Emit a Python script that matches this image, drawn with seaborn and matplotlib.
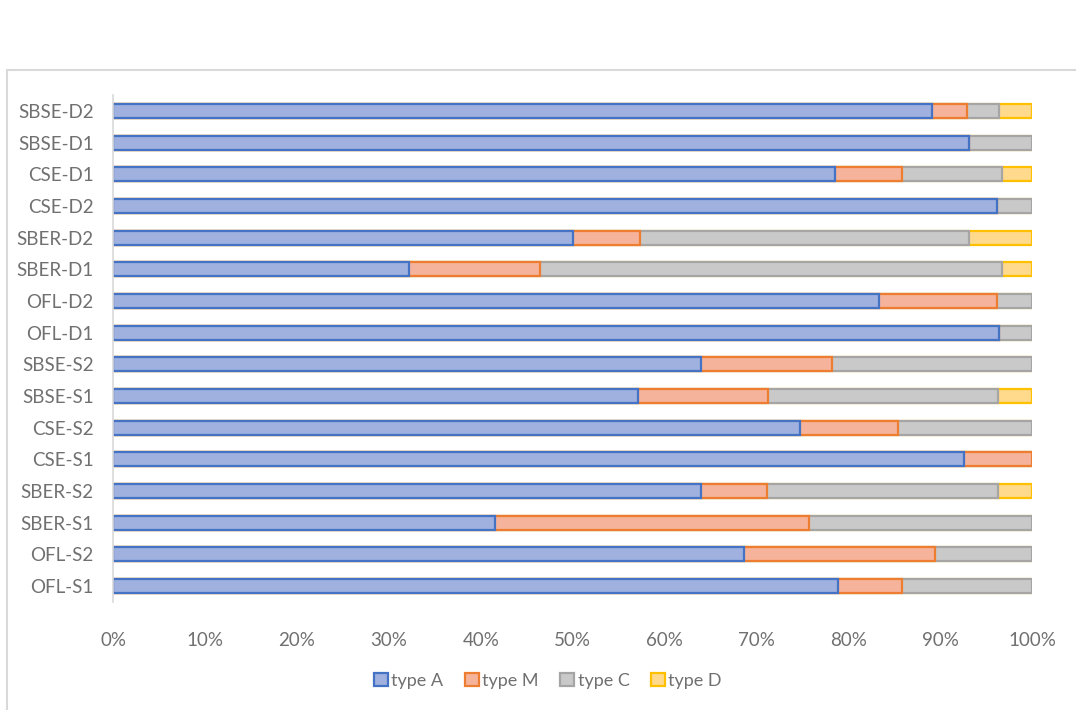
import matplotlib
matplotlib.use("Agg")
import matplotlib.pyplot as plt
from matplotlib.patches import Patch, Rectangle
from matplotlib.ticker import PercentFormatter
import seaborn as sns
import pandas as pd
import numpy as np

categories = ["SBSE-D2", "SBSE-D1", "CSE-D1", "CSE-D2", "SBER-D2", "SBER-D1",
              "OFL-D2", "OFL-D1", "SBSE-S2", "SBSE-S1", "CSE-S2", "CSE-S1",
              "SBER-S2", "SBER-S1", "OFL-S2", "OFL-S1"]
type_a = [89.1, 93.1, 78.6, 96.2, 50.0, 32.2, 83.3, 96.4, 64.0, 57.1, 74.7, 92.6, 64.0, 41.5, 68.7, 78.9]
type_m = [3.8, 0.0, 7.2, 0.0, 7.3, 14.3, 12.9, 0.0, 14.2, 14.2, 10.7, 7.4, 7.2, 34.2, 20.7, 7.0]
type_c = [3.5, 6.9, 10.9, 3.8, 35.8, 50.2, 3.8, 3.6, 21.8, 25.0, 14.6, 0.0, 25.1, 24.3, 10.6, 14.1]
type_d = [3.6, 0.0, 3.3, 0.0, 6.9, 3.3, 0.0, 0.0, 0.0, 3.7, 0.0, 0.0, 3.7, 0.0, 0.0, 0.0]
series_names = ["type A", "type M", "type C", "type D"]

df = pd.DataFrame({"cat": categories, "type A": type_a, "type M": type_m,
                   "type C": type_c, "type D": type_d})

fills = {"type A": "#A0B1E0", "type M": "#F5B39B", "type C": "#C9C9C9", "type D": "#FFD98C"}
edges = {"type A": "#4472C4", "type M": "#ED7D31", "type C": "#A5A5A5", "type D": "#FFC000"}

sns.set_theme(style="white")
plt.rcParams["font.family"] = ["Lato", "DejaVu Sans"]
text_color = "#707070"

fig = plt.figure(figsize=(10.76, 7.10), dpi=100)
ax = fig.add_axes([113.3 / 1076, 1 - 601.8 / 710, (1032 - 113.3) / 1076, (601.8 - 95.2) / 710])

cum = df[series_names].cumsum(axis=1)
for name in reversed(series_names):
    sns.barplot(data=pd.DataFrame({"cat": categories, "val": cum[name].values}),
                x="val", y="cat", orient="h", color=fills[name], edgecolor=edges[name],
                linewidth=1.6, width=0.45, saturation=1, ax=ax)

ax.set_xlim(0, 100)
ax.set_ylim(15.5, -0.5)
ax.set_xticks(np.arange(0, 101, 10))
ax.xaxis.set_major_formatter(PercentFormatter(100, decimals=0))
ax.set_xlabel("")
ax.set_ylabel("")
for s in ["top", "right", "bottom"]:
    ax.spines[s].set_visible(False)
ax.spines["left"].set_color("#D9D9D9")
ax.spines["left"].set_linewidth(1.2)
ax.tick_params(axis="x", length=0, pad=22, labelsize=13.5, labelcolor=text_color)
ax.tick_params(axis="y", length=0, pad=14, labelsize=13.5, labelcolor=text_color)

handles = [Patch(facecolor=fills[n], edgecolor=edges[n], linewidth=1.6, label=n) for n in series_names]
fig.legend(handles=handles, loc="center", bbox_to_anchor=(548 / 1076, 1 - 681 / 710), ncol=4,
           frameon=False, handlelength=0.75, handleheight=0.75, handletextpad=0.2,
           columnspacing=1.2, prop={"size": 13}, labelcolor=text_color)

# outer chart frame
fig.add_artist(Rectangle((7 / 1076, -0.01), 1.0, 1 - 70 / 710 + 0.01, transform=fig.transFigure,
                         fill=False, edgecolor="#D9D9D9", linewidth=1.5))

fig.savefig("out.png", dpi=100)
